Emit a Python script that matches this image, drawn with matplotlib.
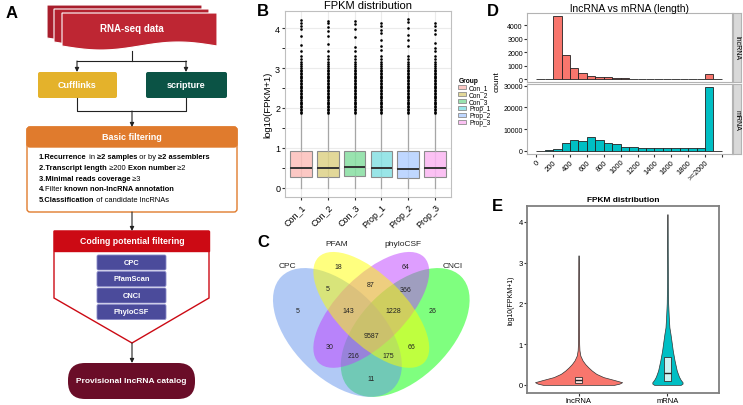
import matplotlib
matplotlib.use("Agg")
import matplotlib.pyplot as plt
import numpy as np
from matplotlib.patches import Ellipse, Polygon, Rectangle, FancyBboxPatch, Patch
from matplotlib.colors import to_rgba

plt.rcParams['font.family'] = ['Liberation Sans', 'DejaVu Sans']

W, H = 743, 406

# ---------------- data ----------------
# B: FPKM boxplots per sample
groups = ["Con_1", "Con_2", "Con_3", "Prop_1", "Prop_2", "Prop_3"]
group_colors = ["#F8766D", "#B79F00", "#00BA38", "#00BFC4", "#619CFF", "#F564E3"]
box_q1 = [0.27, 0.28, 0.29, 0.26, 0.24, 0.28]
box_med = [0.49, 0.50, 0.51, 0.50, 0.48, 0.50]
box_q3 = [0.91, 0.91, 0.91, 0.91, 0.91, 0.91]
box_lo = [0.0, 0.0, 0.0, 0.0, 0.0, 0.0]
box_hi = [1.86, 1.86, 1.85, 1.86, 1.86, 1.86]
dense_fliers = [1.88, 1.91, 1.95, 1.98, 2.02, 2.05, 2.09, 2.13, 2.16, 2.2, 2.24, 2.27,
                2.31, 2.34, 2.38, 2.42, 2.45, 2.49, 2.52, 2.56, 2.6, 2.63, 2.67, 2.7,
                2.74, 2.78, 2.81, 2.85, 2.88, 2.92, 2.96, 2.99, 3.04, 3.1, 3.16, 3.22, 3.3]
top_fliers = [[4.2, 4.14, 4.06, 3.98, 3.8, 3.58, 3.43],
              [4.19, 4.12, 4.03, 3.93, 3.81, 3.6, 3.42],
              [4.17, 4.1, 3.99, 3.77, 3.53, 3.44],
              [4.12, 4.05, 3.95, 3.88, 3.71, 3.55, 3.46],
              [4.24, 4.15, 4.0, 3.84, 3.7, 3.55],
              [4.13, 4.05, 3.95, 3.85, 3.62, 3.5, 3.44]]

# C: Venn counts
venn_sets = ["CPC", "PFAM", "phyloCSF", "CNCI"]
venn_counts = [5, 18, 64, 26, 5, 87, 366, 143, 1228, 9587, 30, 66, 216, 175, 11]

# D: length histograms (bin left edges, width 100)
len_bins = [0, 100, 200, 300, 400, 500, 600, 700, 800, 900, 1000, 1100,
            1200, 1300, 1400, 1500, 1600, 1700, 1800, 1900, 2000, 2100]
lnc_counts = [0, 0, 4700, 1800, 820, 450, 270, 200, 170, 100, 70, 55,
              45, 35, 30, 25, 20, 15, 12, 10, 360, 0]
mrna_counts = [0, 250, 800, 3500, 5200, 4800, 6300, 5200, 3600, 3400, 2000, 1600,
               1550, 1300, 1300, 1300, 1300, 1400, 1400, 1400, 29300, 0]
len_ticks = [0, 200, 400, 600, 800, 1000, 1200, 1400, 1600, 1800, 2000, 2200]
len_labels = ["0", "200", "400", "600", "800", "1000", "1200", "1400", "1600", "1800", ">=2000", ""]

# E: violin outlines (half widths) and inner boxes
types = ["lncRNA", "mRNA"]
type_colors = ["#F8766D", "#00BFC4"]
lnc_y = [0.0, 0.03, 0.065, 0.12, 0.19, 0.27, 0.35, 0.43, 0.51, 0.6, 0.72, 0.85, 1.0, 1.5, 2.0, 2.5, 3.0, 3.18]
lnc_w = [0.40, 0.46, 0.49, 0.40, 0.28, 0.20, 0.15, 0.11, 0.075, 0.045, 0.02, 0.01, 0.007, 0.005, 0.004, 0.004, 0.003, 0.0]
mrna_y = [0.0, 0.03, 0.065, 0.12, 0.2, 0.35, 0.6, 0.84, 1.0, 1.25, 1.41, 1.66, 2.0, 2.5, 3.0, 3.5, 4.19]
mrna_w = [0.15, 0.17, 0.17, 0.15, 0.13, 0.105, 0.08, 0.06, 0.05, 0.034, 0.022, 0.015, 0.008, 0.005, 0.004, 0.003, 0.0]
vio_q1 = [0.05, 0.10]
vio_med = [0.12, 0.29]
vio_q3 = [0.20, 0.69]


def px_axes(fig, x0, y0, x1, y1):
    return fig.add_axes([x0 / W, 1 - y1 / H, (x1 - x0) / W, (y1 - y0) / H])


def fx(x):
    return x / W


def fy(y):
    return 1 - y / H


fig = plt.figure(figsize=(W / 100, H / 100), dpi=100)

# ---------------- A: flowchart ----------------
axa = px_axes(fig, 0, 0, 245, 406)
axa.set_xlim(0, 245)
axa.set_ylim(406, 0)
axa.axis("off")


def doc(ax, x0, y0, w, h, color):
    t = np.linspace(0, 1, 50)
    bx = x0 + w * t[::-1]
    by = y0 + h + 4 * np.sin(2 * np.pi * t[::-1])
    pts = [(x0, y0), (x0 + w, y0)] + list(zip(bx, by))
    ax.add_patch(Polygon(pts, closed=True, facecolor=color, edgecolor="white", lw=0.8))


doc(axa, 47, 6, 155, 33, "#A81E2C")
doc(axa, 54, 10, 155, 33, "#B3222F")
doc(axa, 62, 14, 155, 33, "#BE2633")
axa.text(132, 29, "RNA-seq data", color="white", weight="bold", fontsize=7, ha="center", va="center")

arr = dict(arrowstyle="-|>", color="#222222", lw=0.8, mutation_scale=6, shrinkA=0, shrinkB=0)
ln = dict(color="#222222", lw=0.8)
axa.plot([132, 132], [52, 62], **ln)
axa.plot([77, 186], [62, 62], **ln)
axa.annotate("", xy=(77, 73), xytext=(77, 62), arrowprops=arr)
axa.annotate("", xy=(186, 73), xytext=(186, 62), arrowprops=arr)

axa.add_patch(FancyBboxPatch((38, 73), 79, 26, boxstyle="round,pad=0,rounding_size=2",
                             facecolor="#E4B22B", edgecolor="none"))
axa.text(77, 86, "Cufflinks", color="white", weight="bold", fontsize=6.5, ha="center", va="center")
axa.add_patch(FancyBboxPatch((146, 73), 81, 26, boxstyle="round,pad=0,rounding_size=2",
                             facecolor="#0B5345", edgecolor="none"))
axa.text(186, 86, "scripture", color="white", weight="bold", fontsize=6.5, ha="center", va="center")

axa.plot([77, 77, 186, 186], [99, 112, 112, 99], **ln)
axa.annotate("", xy=(132, 128), xytext=(132, 112), arrowprops=arr)

# basic filtering box
axa.add_patch(FancyBboxPatch((27, 128), 210, 85, boxstyle="round,pad=0,rounding_size=3",
                             facecolor="white", edgecolor="#E07B2D", lw=1))
axa.add_patch(FancyBboxPatch((27, 128), 210, 20, boxstyle="round,pad=0,rounding_size=3",
                             facecolor="#E07B2D", edgecolor="#E07B2D", lw=1))
axa.text(132, 138, "Basic filtering", color="white", weight="bold", fontsize=6.5, ha="center", va="center")

basic_lines = [
    [("1.Recurrence", "bold"), (" in ", "normal"), ("\u22652 samples", "bold"),
     (" or by ", "normal"), ("\u22652 assemblers", "bold")],
    [("2.Transcript length", "bold"), (" \u2265200 ", "normal"), ("Exon number", "bold"), (" \u22652", "normal")],
    [("3.Minimal reads coverage", "bold"), (" \u22653", "normal")],
    [("4.", "bold"), ("Filter ", "normal"), ("known non-lncRNA annotation", "bold")],
    [("5.Classification", "bold"), (" of candidate lncRNAs", "normal")],
]
line_y = [158, 169, 179.5, 190, 200.5]
for pieces, yy in zip(basic_lines, line_y):
    prev = axa.text(39, yy, pieces[0][0], weight=pieces[0][1], fontsize=5.4, va="center", ha="left")
    for s, wgt in pieces[1:]:
        prev = axa.annotate(s, xy=(1, 0), xycoords=prev, ha="left", va="bottom",
                            weight=wgt, fontsize=5.4)

axa.annotate("", xy=(132, 232), xytext=(132, 213), arrowprops=arr)

# coding potential filtering shield
axa.add_patch(Polygon([(54, 232), (209, 232), (209, 299), (132, 344), (54, 299)], closed=True,
                      facecolor="white", edgecolor="#CC0A14", lw=1))
axa.add_patch(Rectangle((54, 232), 155, 20, facecolor="#CC0A14", edgecolor="#CC0A14", lw=1))
axa.text(132, 242, "Coding potential filtering", color="white", weight="bold", fontsize=6.3,
         ha="center", va="center")
tools = ["CPC", "PfamScan", "CNCI", "PhyloCSF"]
tool_y = [256, 272.5, 289, 305.5]
for name, ty in zip(tools, tool_y):
    axa.add_patch(FancyBboxPatch((97, ty), 69, 15, boxstyle="round,pad=0,rounding_size=1.5",
                                 facecolor="#4B4B9B", edgecolor="#8A8AC8", lw=0.6))
    axa.text(131.5, ty + 7.5, name, color="white", weight="bold", fontsize=5.4, ha="center", va="center")

axa.annotate("", xy=(132, 364), xytext=(132, 344), arrowprops=arr)
axa.add_patch(FancyBboxPatch((68, 364), 127, 36, boxstyle="round,pad=0,rounding_size=17",
                             facecolor="#6A0D28", edgecolor="none"))
axa.text(131.5, 382, "Provisional lncRNA catalog", color="white", weight="bold", fontsize=6,
         ha="center", va="center")

# ---------------- B: boxplots ----------------
axb = px_axes(fig, 285, 12, 451, 198)
stats = []
for i in range(len(groups)):
    stats.append(dict(med=box_med[i], q1=box_q1[i], q3=box_q3[i], whislo=box_lo[i], whishi=box_hi[i],
                      fliers=np.array(dense_fliers + top_fliers[i])))
pos = list(range(1, len(groups) + 1))
axb.set_axisbelow(True)
axb.set_yticks([0.5, 1.5, 2.5, 3.5], minor=True)
axb.grid(True, which="major", color="#EBEBEB", lw=0.8)
axb.grid(True, which="minor", axis="y", color="#F5F5F5", lw=0.5)
bp = axb.bxp(stats, positions=pos, widths=0.8, patch_artist=True, showcaps=False,
             boxprops=dict(edgecolor="#8C8C8C", lw=0.8),
             medianprops=dict(color="#333333", lw=1.4),
             whiskerprops=dict(color="#A6A6A6", lw=0.9),
             flierprops=dict(marker="o", markersize=1.9, markerfacecolor="black",
                             markeredgewidth=0, linestyle="none"))
for patch, c in zip(bp["boxes"], group_colors):
    patch.set_facecolor(to_rgba(c, 0.4))
axb.set_xlim(0.4, 6.6)
axb.set_ylim(-0.23, 4.43)
axb.set_yticks([0, 1, 2, 3, 4])
axb.set_xticks(pos)
axb.set_xticklabels(groups, rotation=45, ha="right", va="top", rotation_mode="anchor", fontsize=6.5)
axb.tick_params(axis="both", length=2, color="#333333", labelsize=6.5, pad=1.5)
for s in axb.spines.values():
    s.set_color("#BFBFBF")
axb.set_ylabel("log10(FPKM+1)", fontsize=6.8, labelpad=2)
axb.set_title("FPKM distribution", fontsize=8, pad=2)
handles = [Patch(facecolor=to_rgba(c, 0.4), edgecolor="#8C8C8C", lw=0.6) for c in group_colors]
leg = fig.legend(handles, groups, loc="upper left", bbox_to_anchor=(fx(455), fy(75)), frameon=False,
                 fontsize=4.8, title="Group", title_fontproperties={"weight": "bold", "size": 4.8},
                 handlelength=1.2, handleheight=0.7, labelspacing=0.0, borderpad=0,
                 handletextpad=0.4, alignment="left")

# ---------------- C: Venn ----------------
axc = px_axes(fig, 245, 235, 520, 406)
axc.set_xlim(245, 520)
axc.set_ylim(406, 235)
axc.axis("off")
u = 226.0
cx = lambda v: 258.3 + u * v
cy = lambda v: 439.7 - u * v
venn_shapes = [  # (center x, center y, a, b, angle, color) in Venn units
    (0.65, 0.47, 0.35, 0.20, -45, "#00FF00"),
    (0.35, 0.47, 0.35, 0.20, 45, "#6495ED"),
    (0.50, 0.57, 0.33, 0.15, -45, "#BF3EFF"),
    (0.50, 0.57, 0.33, 0.15, 45, "#FFFF00"),
]
for x0, y0, a, b, ang, col in venn_shapes:
    axc.add_patch(Ellipse((cx(x0), cy(y0)), 2 * a * u, 2 * b * u, angle=ang,
                          facecolor=col, alpha=0.5, edgecolor="none"))
venn_count_pos = [(298, 312), (338, 268), (405, 268), (433, 312), (328, 290), (371, 286), (406, 291),
                  (348, 312), (393, 312), (371, 337), (330, 348), (411, 348), (353, 357), (388, 357),
                  (371, 380)]
for n, (px, py) in zip(venn_counts, venn_count_pos):
    axc.text(px, py, str(n), fontsize=5, ha="center", va="center", color="#222222")
venn_set_pos = [(287, 267), (337, 245), (403, 245), (453, 267)]
for name, (px, py) in zip(venn_sets, venn_set_pos):
    axc.text(px, py, name, fontsize=6, ha="center", va="center", color="#222222")

# ---------------- D: histograms ----------------
axd1 = px_axes(fig, 527, 14, 732, 83)
axd2 = px_axes(fig, 527, 85, 732, 155)
for ax, counts, col, lim, ticks in [(axd1, lnc_counts, "#F8766D", (-200, 4900), [0, 1000, 2000, 3000, 4000]),
                                    (axd2, mrna_counts, "#00BFC4", (-1400, 30800), [0, 10000, 20000, 30000])]:
    ax.bar(len_bins, counts, width=100, align="edge", color=col, edgecolor="#222222", lw=0.6)
    ax.set_xlim(-110, 2320)
    ax.set_ylim(*lim)
    ax.set_yticks(ticks)
    ax.tick_params(axis="y", length=2, labelsize=5.0, pad=1, color="#333333")
    for s in ax.spines.values():
        s.set_color("#B3B3B3")
axd1.set_xticks([])
axd2.set_xticks(len_ticks)
axd2.set_xticklabels(len_labels, rotation=45, ha="right", va="top", rotation_mode="anchor", fontsize=5.5)
axd2.tick_params(axis="x", length=2, pad=1, color="#333333")
for y0, y1, lab in [(14, 83, "lncRNA"), (85, 155, "mRNA")]:
    st = px_axes(fig, 733, y0, 741, y1)
    st.set_facecolor("#D9D9D9")
    st.set_xticks([])
    st.set_yticks([])
    for s in st.spines.values():
        s.set_color("#B3B3B3")
    st.text(0.5, 0.5, lab, rotation=-90, fontsize=5, ha="center", va="center", transform=st.transAxes)
fig.text(fx(629), fy(9), "lncRNA vs mRNA (length)", fontsize=7.5, ha="center", va="center")
fig.text(fx(497), fy(82), "count", fontsize=6, rotation=90, ha="center", va="center")

# ---------------- E: violins ----------------
axe = px_axes(fig, 527, 207, 719, 394)
profiles = [(lnc_y, lnc_w), (mrna_y, mrna_w)]
for i, ((vy, vw), col) in enumerate(zip(profiles, type_colors)):
    p = i + 1
    vy = np.array(vy)
    vw = np.array(vw)
    axe.fill_betweenx(vy, p - vw, p + vw, facecolor=col, edgecolor="#333333", lw=0.5)
vstats = [dict(med=vio_med[i], q1=vio_q1[i], q3=vio_q3[i], whislo=vio_q1[i], whishi=vio_q3[i], fliers=[])
          for i in range(2)]
vb = axe.bxp(vstats, positions=[1, 2], widths=0.08, patch_artist=True, showcaps=False, showfliers=False,
             boxprops=dict(edgecolor="#333333", lw=0.6),
             medianprops=dict(color="#222222", lw=1.0),
             whiskerprops=dict(lw=0))
for patch in vb["boxes"]:
    patch.set_facecolor(to_rgba("white", 0.8))
axe.set_xlim(0.42, 2.58)
axe.set_ylim(-0.2, 4.39)
axe.set_xticks([1, 2])
axe.set_xticklabels(types, fontsize=5.5)
axe.set_yticks([0, 1, 2, 3, 4])
axe.tick_params(axis="both", length=2, labelsize=5.5, pad=1, color="#333333")
for s in axe.spines.values():
    s.set_color("#7F7F7F")
    s.set_linewidth(1.3)
axe.set_ylabel("log10(FPKM+1)", fontsize=5, labelpad=3)
fig.text(fx(623), fy(201), "FPKM distribution", fontsize=6, weight="bold", ha="center", va="center")

# ---------------- panel letters ----------------
for lab, x, y in [("A", 12, 13), ("B", 263, 12), ("C", 263, 243), ("D", 493, 12), ("E", 497, 207)]:
    fig.text(fx(x), fy(y), lab, fontsize=12, weight="bold", ha="center", va="center")

fig.savefig("out.png", dpi=100)
